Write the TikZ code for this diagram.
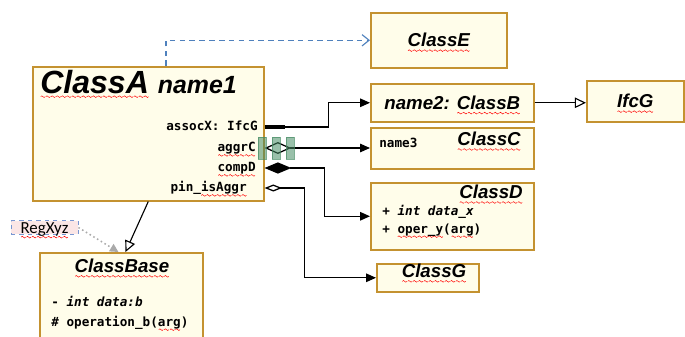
\documentclass[tikz,border=0pt]{standalone}
\usepackage{fontspec}
\usepackage{xcolor}
\usepackage{tikz}
\usetikzlibrary{arrows.meta,positioning}
\setmainfont{Liberation Sans}
\newfontfamily\umlmono{DejaVu Sans Mono}
\newfontfamily\notefont{Carlito}

\definecolor{boxedge}{RGB}{196,146,48}
\definecolor{boxfill}{RGB}{255,253,234}
\definecolor{depblue}{RGB}{79,129,189}
\definecolor{selgreen}{RGB}{70,140,100}
\definecolor{reqfill}{RGB}{251,230,230}
\definecolor{reqedge}{RGB}{120,150,210}
\definecolor{traceg}{RGB}{170,170,170}

% red spell-check wave under a word
\newsavebox\spellbox
\newcommand\spellwave[1]{%
    \sbox\spellbox{#1}%
    \rlap{\raisebox{-2.6pt}[0pt][0pt]{\hbox to \wd\spellbox{\xleaders\hbox{%
        \tikz[x=1pt,y=1pt,baseline=0pt]\draw[red,line width=0.35pt] (0,0) sin (0.8,0.6) cos (1.6,0) sin (2.4,-0.6) cos (3.2,0);}\hfill}}}%
    \usebox\spellbox}

\tikzset{
    umlbox/.style 2 args={
        draw=boxedge, fill=boxfill, line width=1.1pt, anchor=north west, inner sep=0pt,
        minimum width=#1*0.025cm, minimum height=#2*0.025cm
    },
    clsname/.style={font=\fontsize{13.3}{16}\selectfont\bfseries\itshape, inner sep=0pt},
    member/.style={font=\umlmono\fontsize{9}{11}\selectfont\bfseries, inner sep=0pt},
    myline/.style={line width=0.9pt, black},
    assoc/.style={myline, -{Triangle[length=7pt,width=6pt]}},
    aggr/.style={myline, {Diamond[open,length=19pt,width=8.5pt]}-{Triangle[length=7pt,width=6pt]}},
    comp/.style={myline, {Diamond[length=19pt,width=8pt]}-{Triangle[length=7pt,width=6pt]}},
    pinaggr/.style={myline, {Diamond[open,length=12.5pt,width=5pt]}-{Triangle[length=7pt,width=6pt]}},
    inherit/.style={line width=0.8pt, black, -{Triangle[open,length=8pt,width=7.5pt]}},
    depend/.style={line width=0.8pt, depblue, dash pattern=on 4pt off 3pt, -{Straight Barb[length=5pt,width=8pt]}},
    trace/.style={line width=1.1pt, traceg, dotted, -{Triangle[length=6pt,width=6pt]}},
    selhandle/.style={fill=selgreen, fill opacity=0.55, draw=selgreen, draw opacity=0.7,
        line width=0.3pt, inner sep=0pt, minimum width=8*0.025cm, minimum height=22*0.025cm},
    reqbox/.style={draw=reqedge, fill=reqfill, dashed, line width=0.6pt,
        font=\notefont\fontsize{12}{14}\selectfont, inner xsep=0pt, inner ysep=0.6pt,
        text height=8.5pt, text depth=0pt, minimum width=67*0.025cm}
}

\begin{document}
\begin{tikzpicture}[x=0.025cm, y=-0.025cm]
    \useasboundingbox (0,0) rectangle (685,336);
    \clip (0,0) rectangle (685,336);

    % draw class boxes
    \node[umlbox={231}{134}] (classA) at (32,66) {};
    \node[umlbox={136}{55}] (classE) at (370,12) {};
    \node[umlbox={163}{38}] (classB) at (370,83) {};
    \node[umlbox={163}{41}] (classC) at (370,127) {};
    \node[umlbox={163}{67}] (classD) at (370,182) {};
    \node[umlbox={102}{28}] (classG) at (376,263) {};
    \node[umlbox={97}{41}] (ifcG) at (586,80) {};
    \node[umlbox={163}{95}] (classBase) at (39,252) {};

    % class names
    \node[inner sep=0pt, anchor=base west, font=\fontsize{22.8}{26}\selectfont\bfseries\itshape] (titleA) at (40,93)
        {\spellwave{ClassA} {\fontsize{17.7}{20}\selectfont name1}};
    \node[clsname] (titleE) at (classE.center) {\spellwave{ClassE}};
    \node[clsname] (titleB) at (classB.center) {name2: \spellwave{ClassB}};
    \node[clsname, anchor=north east] (titleC) at (521,132) {\spellwave{ClassC}};
    \node[clsname, anchor=north east] (titleD) at (523,185) {\spellwave{ClassD}};
    \node[clsname] (titleG) at (434,271) {\spellwave{ClassG}};
    \node[clsname] (titleIfc) at (ifcG.center) {\spellwave{IfcG}};
    \node[clsname] (titleBase) at (122,266) {\spellwave{ClassBase}};

    % members
    \node[member, anchor=base west] (nameC) at (379,147) {name3};
    \node[member, anchor=base west] (attD) at (382,215) {+ \textit{int data\_x}};
    \node[member, anchor=base west] (opD) at (382,233) {+ \spellwave{oper\_y}(\spellwave{arg})};
    \node[member, anchor=base west] (attBase) at (51,306) {- \textit{int data:b}};
    \node[member, anchor=base west] (opBase) at (51,326) {\# operation\_b(\spellwave{arg})};

    % port labels of ClassA
    \foreach \nm/\lx/\ly/\txt in {lblAssoc/258/127/{assocX: IfcG},
            lblAggr/256/148/{\spellwave{aggrC}},
            lblComp/256/168/{\spellwave{compD}},
            lblPin/247/188/{pin\_\spellwave{isAggr}}}
    {
        \node[member, anchor=mid east] (\nm) at (\lx,\ly) {\txt};
    }

    % requirement note
    \node[reqbox] (regXyz) at (44.5,227.5) {\spellwave{RegXyz}};

    % dependency to ClassE
    \coordinate (depfoot) at (166,66);
    \draw[depend] (depfoot) |- (classE.west);

    % connectors from the ports
    \draw[line width=2.2pt] (lblAssoc.mid -| classA.east) -- ++(20,0);
    \draw[assoc] (lblAssoc.mid -| classA.east) -- ++(64,0) |- (classB.west);
    \draw[aggr] (lblAggr.mid -| classA.east) -- (lblAggr.mid -| classC.west);
    \draw[comp] (lblComp.mid -| classA.east) -- ++(60,0) |- (classD.west);
    \draw[pinaggr] (lblPin.mid -| classA.east) -- ++(40,0) |- (classG.west);

    % selection handles on the aggregation
    \foreach \hx in {262,276,290}
    {
        \node[selhandle] (hdl\hx) at (\hx,148) {};
    }

    % generalizations
    \draw[inherit] (classB.east) -- (classB.east -| ifcG.west);
    \draw[inherit] (classA.south) -- ([xshift=3pt]classBase.north);

    % trace from the note
    \draw[trace] (regXyz.east) -- ([xshift=-2pt]classBase.north);
\end{tikzpicture}
\end{document}
